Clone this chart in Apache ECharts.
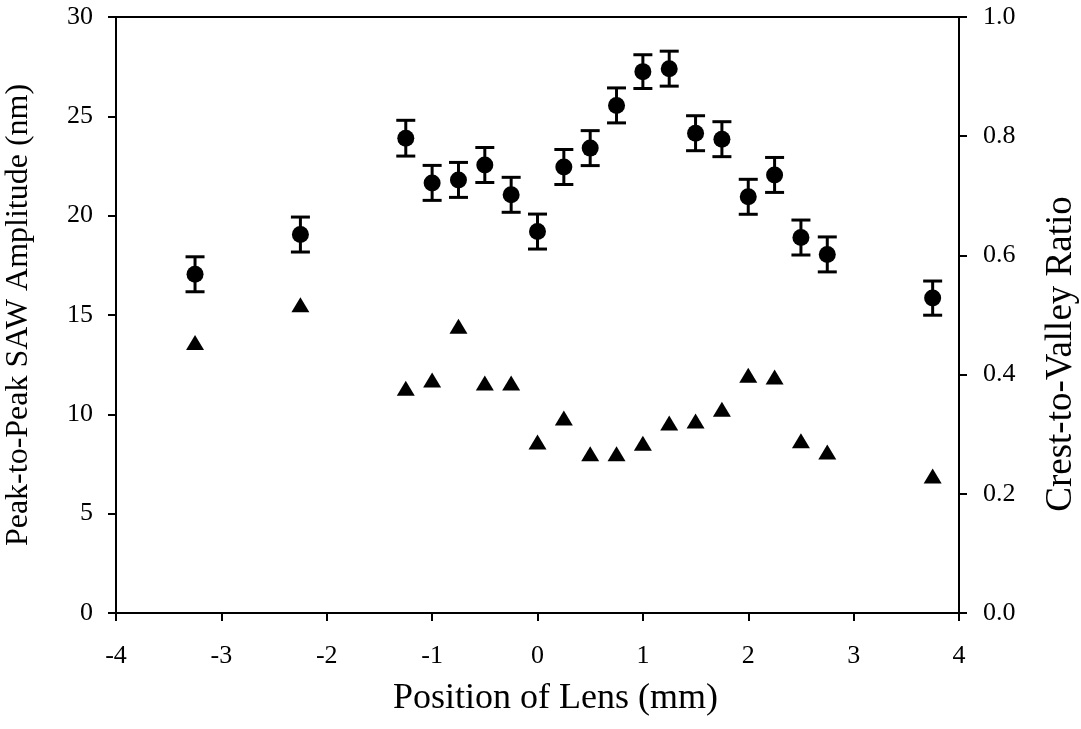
<!DOCTYPE html>
<html>
<head>
<meta charset="utf-8">
<script src="https://cdn.jsdelivr.net/npm/echarts@6/dist/echarts.min.js"></script>
<style>
  html, body { margin: 0; padding: 0; background: #fff; }
  #chart { width: 1081px; height: 729px; }
</style>
</head>
<body>
<div id="chart"></div>
<script>
  // lens positions (mm)
  var positions = [-3.25, -2.25, -1.25, -1, -0.75, -0.5, -0.25, 0, 0.25, 0.5, 0.75, 1, 1.25, 1.5, 1.75, 2, 2.25, 2.5, 2.75, 3.75];
  // peak-to-peak SAW amplitude (nm) and its error bar half-width
  var amplitude = [17.05, 19.05, 23.9, 21.65, 21.8, 22.55, 21.05, 19.2, 22.45, 23.4, 25.55, 27.25, 27.4, 24.15, 23.85, 20.95, 22.05, 18.9, 18.05, 15.85];
  var amplitudeErr = [0.88, 0.88, 0.9, 0.88, 0.88, 0.88, 0.88, 0.88, 0.88, 0.88, 0.88, 0.85, 0.88, 0.88, 0.88, 0.88, 0.88, 0.88, 0.88, 0.86];
  // crest-to-valley ratio
  var ratio = [0.454, 0.517, 0.377, 0.391, 0.481, 0.386, 0.386, 0.287, 0.327, 0.267, 0.267, 0.285, 0.319, 0.322, 0.342, 0.399, 0.396, 0.289, 0.27, 0.23];

  var font = 'Liberation Serif';
  var chart = echarts.init(document.getElementById('chart'));

  var ampData = positions.map(function (x, i) { return [x, amplitude[i]]; });
  var errData = positions.map(function (x, i) { return [x, amplitude[i], amplitudeErr[i]]; });
  var ratioData = positions.map(function (x, i) { return [x, ratio[i]]; });

  function renderErr(params, api) {
    var x = api.value(0), y = api.value(1), e = api.value(2);
    var top = api.coord([x, y + e]);
    var bot = api.coord([x, y - e]);
    var half = 9.5;
    var st = { stroke: '#000', lineWidth: 3 };
    return {
      type: 'group',
      children: [
        { type: 'line', shape: { x1: top[0], y1: top[1], x2: bot[0], y2: bot[1] }, style: st },
        { type: 'line', shape: { x1: top[0] - half, y1: top[1], x2: top[0] + half, y2: top[1] }, style: st },
        { type: 'line', shape: { x1: bot[0] - half, y1: bot[1], x2: bot[0] + half, y2: bot[1] }, style: st }
      ]
    };
  }

  var axisCommon = {
    axisLine: { show: true, onZero: false, lineStyle: { color: '#000', width: 2 } },
    axisTick: { show: true, length: 8, lineStyle: { color: '#000', width: 2 } },
    splitLine: { show: false },
    nameTextStyle: { fontFamily: font, fontSize: 32, color: '#000' }
  };

  chart.setOption({
    animation: false,
    backgroundColor: '#fff',
    grid: { left: 116, right: 122, top: 17, bottom: 116, outerBoundsMode: 'none',
      show: true, borderColor: '#000', borderWidth: 2 },
    xAxis: Object.assign({}, axisCommon, {
      type: 'value', min: -4, max: 4, interval: 1,
      name: 'Position of Lens (mm)', nameLocation: 'middle', nameGap: 68,
      nameTextStyle: { fontFamily: font, fontSize: 36, color: '#000', padding: [0, 0, 0, 36] },
      axisLabel: { fontFamily: font, fontSize: 26, color: '#000', margin: 30 }
    }),
    yAxis: [
      Object.assign({}, axisCommon, {
        type: 'value', min: 0, max: 30, interval: 5, position: 'left',
        name: 'Peak-to-Peak SAW Amplitude (nm)', nameLocation: 'middle', nameGap: 81,
        axisLabel: { fontFamily: font, fontSize: 26, color: '#000', margin: 23 }
      }),
      Object.assign({}, axisCommon, {
        type: 'value', min: 0, max: 1, interval: 0.2, position: 'right',
        name: 'Crest-to-Valley Ratio', nameLocation: 'middle', nameGap: 84,
        nameTextStyle: { fontFamily: font, fontSize: 37, color: '#000', padding: [0, 78, 0, 0] },
        axisLabel: { fontFamily: font, fontSize: 26, color: '#000', margin: 24,
          formatter: function (v) { return v.toFixed(1); } }
      })
    ],
    series: [
      {
        type: 'custom', renderItem: renderErr, data: errData,
        xAxisIndex: 0, yAxisIndex: 0, encode: { x: 0, y: [1, 2] }, z: 2
      },
      {
        type: 'scatter', data: ampData, xAxisIndex: 0, yAxisIndex: 0,
        symbol: 'circle', symbolSize: 17, itemStyle: { color: '#000', opacity: 1 }, z: 3
      },
      {
        type: 'scatter', data: ratioData, xAxisIndex: 0, yAxisIndex: 1,
        symbol: 'triangle', symbolSize: [18, 15], itemStyle: { color: '#000', opacity: 1 }, z: 3
      }
    ]
  });
</script>
</body>
</html>
